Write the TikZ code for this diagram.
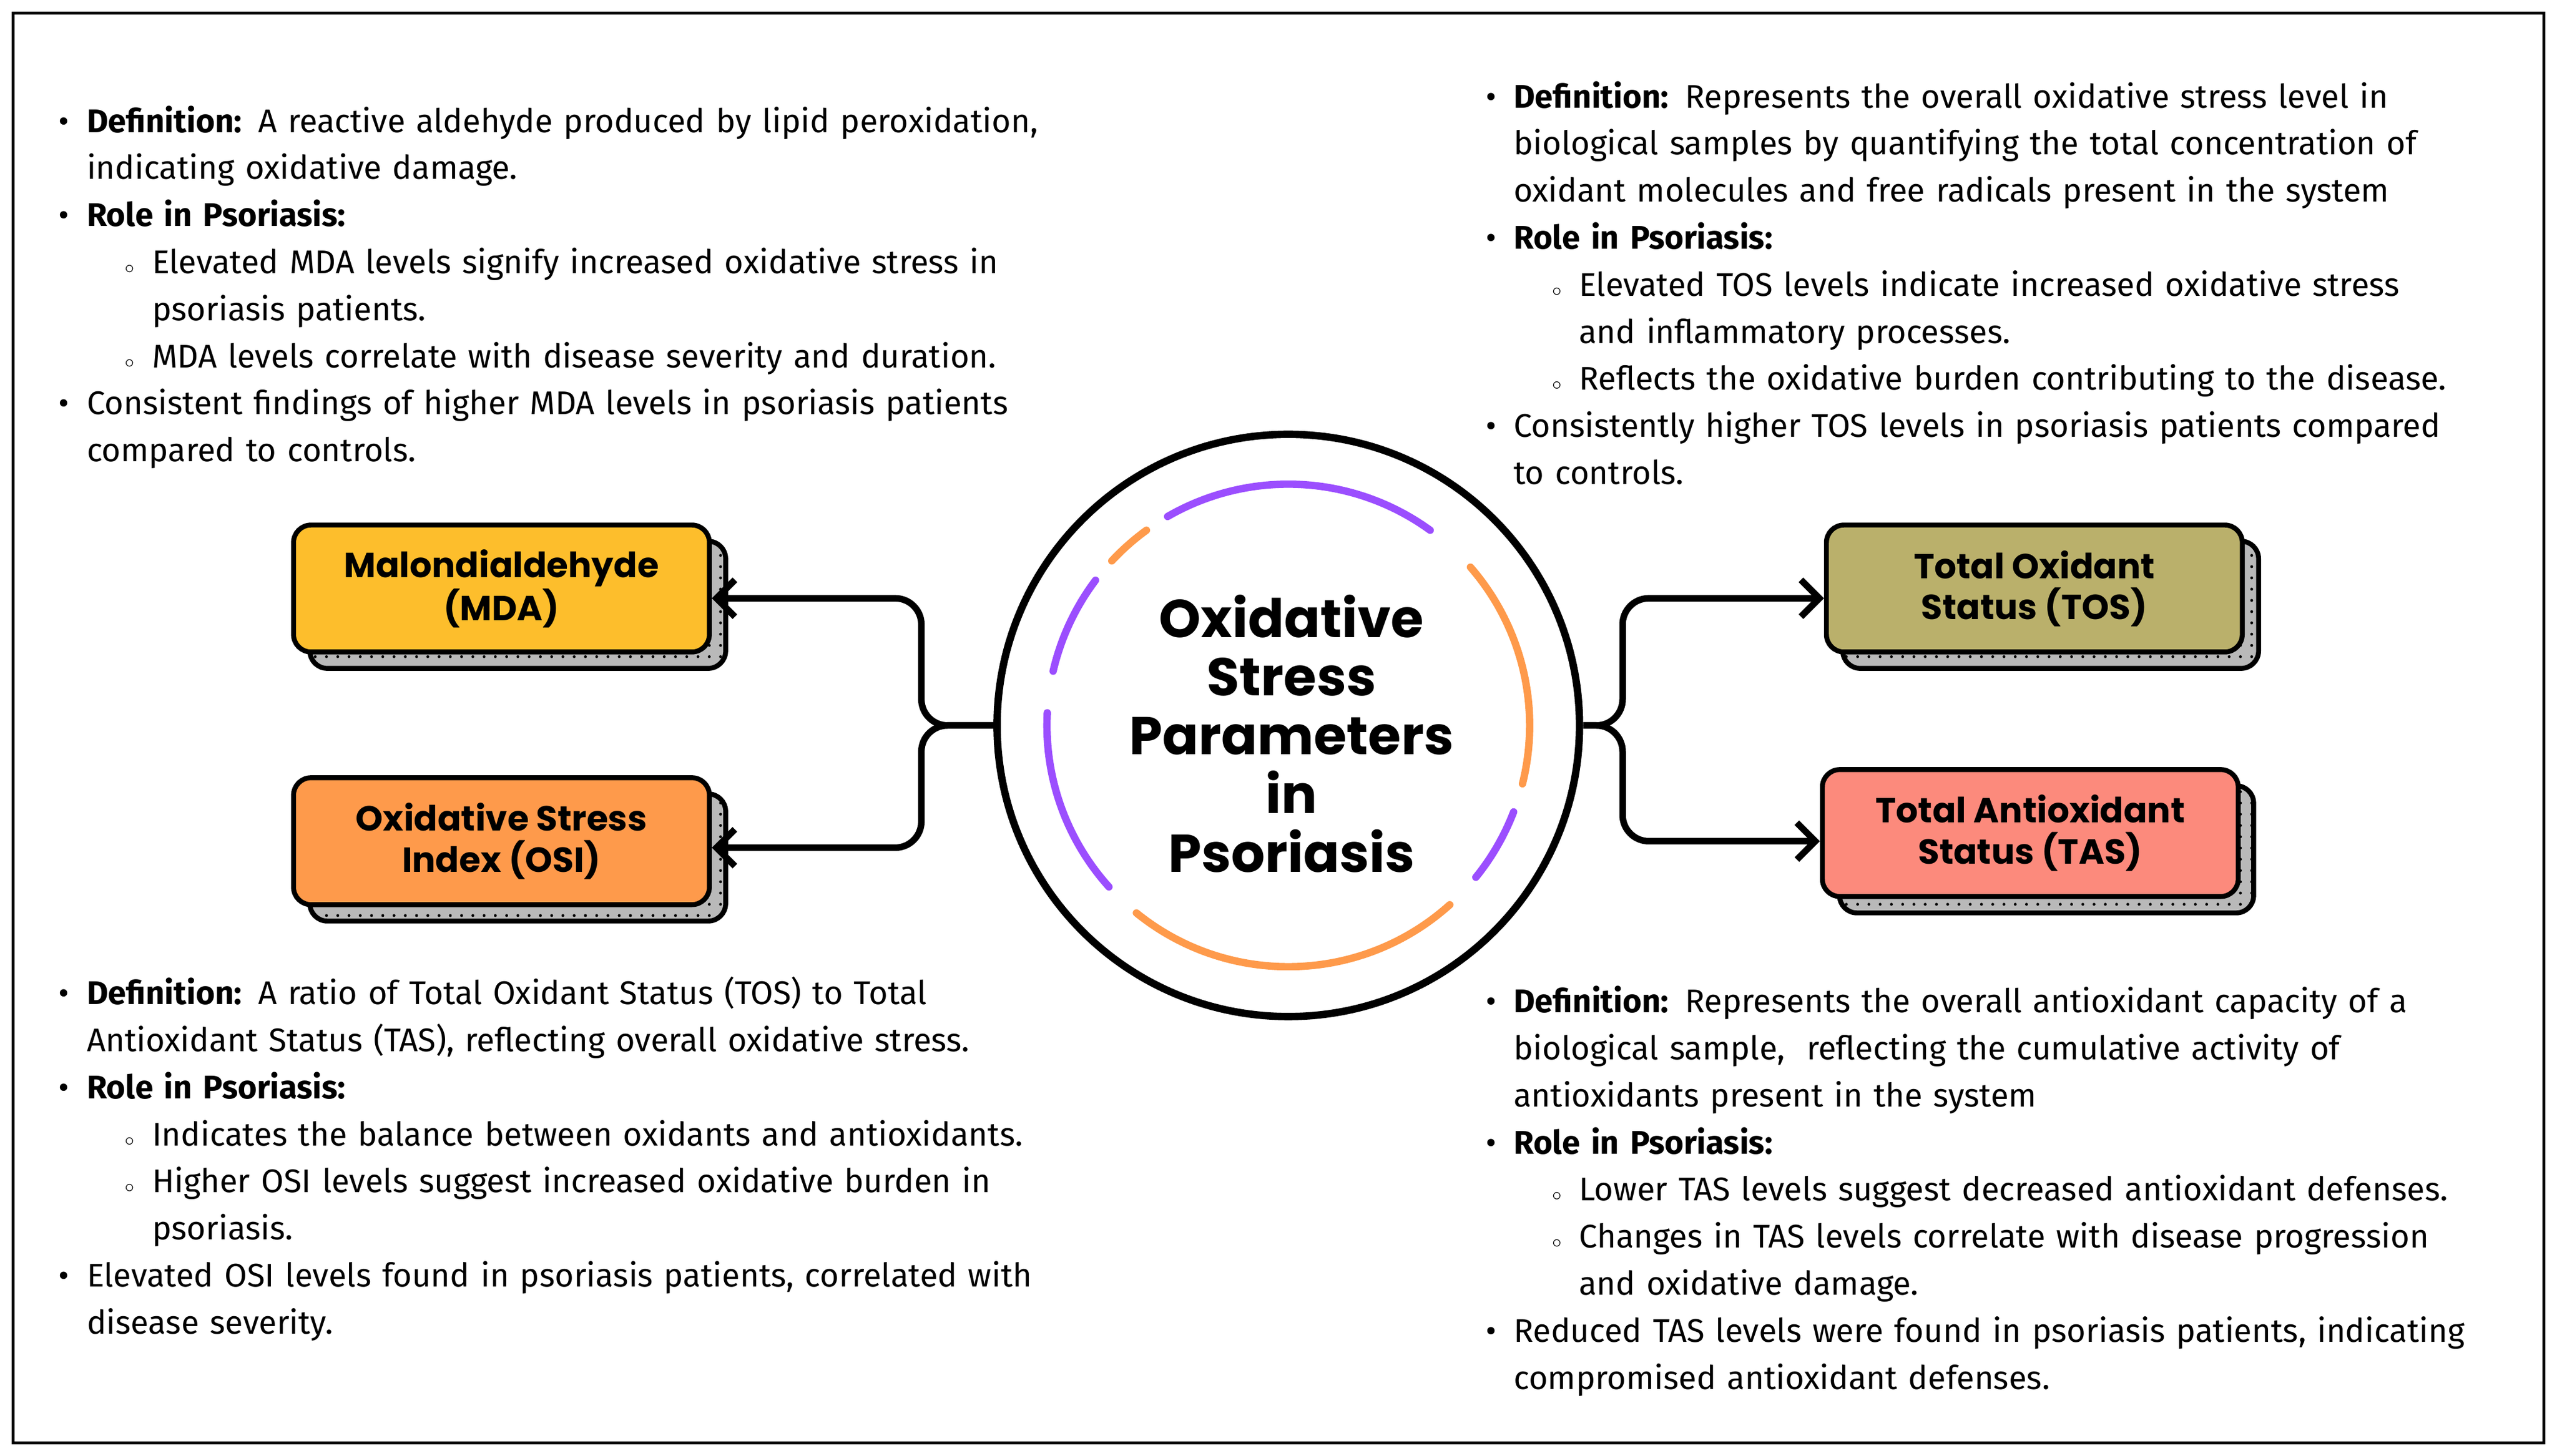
\documentclass[tikz,border=0pt]{standalone}
\usepackage{fontspec}
\usepackage{enumitem}
\setmainfont{Fira Sans}
\newfontfamily\heavy{Poppins}
\usetikzlibrary{arrows.meta,patterns.meta}
\definecolor{cMDA}{HTML}{FDBE2C}
\definecolor{cOSI}{HTML}{FE9A4B}
\definecolor{cTOS}{HTML}{BAB06B}
\definecolor{cTAS}{HTML}{FC8A7C}
\definecolor{arcO}{HTML}{FE9A4B}
\definecolor{arcP}{HTML}{9B4EFE}
\newcommand{\dfn}[1]{\textbf{#1}}
\newenvironment{blist}{\begin{itemize}[leftmargin=0.56cm,labelsep=0.3cm,itemsep=0pt,topsep=0pt,parsep=0pt,partopsep=0pt,label=\textbullet]}{\end{itemize}}
\newenvironment{slist}{\begin{itemize}[leftmargin=1.12cm,labelsep=0.3cm,itemsep=0pt,topsep=0pt,parsep=0pt,partopsep=0pt,label={\small$\circ$}]}{\end{itemize}}
\begin{document}
\begin{tikzpicture}[x=0.028cm,y=-0.028cm,
  box/.style={draw=black,line width=2.4pt,rounded corners=0.3cm,minimum width=7.14cm,minimum height=2.18cm,align=center,inner sep=0pt,font=\heavy\bfseries\fontsize{17}{20}\selectfont},
  shadow/.style={draw=black,line width=2.4pt,rounded corners=0.3cm,fill=gray!55,postaction={pattern={Dots[radius=0.7pt,distance=5.5pt]},pattern color=black}},
  txt/.style={anchor=north west,inner sep=0pt,text width=18.6cm,align=left,font=\fontsize{16}{23}\selectfont},
  conn/.style={line width=3.2pt,rounded corners=0.45cm},
  arr/.style={conn,-{Straight Barb[length=9pt,width=18pt,line width=3.2pt]}},
  arc/.style={line width=3.6pt,line cap=round}]
\useasboundingbox (0,0) rectangle (1568,893);
\draw[line width=1.5pt] (8,8) rectangle (1560,885);

% shadows
\draw[shadow] (190,332) rectangle (445,410);
\draw[shadow] (190,487) rectangle (445,565);
\draw[shadow] (1130,332) rectangle (1385,410);
\draw[shadow] (1128,482) rectangle (1382,560);
% boxes
\node[box,fill=cMDA] (mda) at (307.5,361) {Malondialdehyde\\(MDA)};
\node[box,fill=cOSI] (osi) at (307.5,516) {Oxidative Stress\\Index (OSI)};
\node[box,fill=cTOS] (tos) at (1247.5,361) {Total Oxidant\\Status (TOS)};
\node[box,fill=cTAS] (tas) at (1245,511) {Total Antioxidant\\Status (TAS)};

% circle
\node[circle,draw=black,line width=3.6pt,minimum size=10cm,inner sep=0pt] (c) at (790,445) {};
\node[font=\heavy\bfseries\fontsize{26}{28.7}\selectfont,align=center] (title) at (792,450) {Oxidative\\Stress\\Parameters\\in\\Psoriasis};
\draw[arc,arcO] (790,445) ++(129:148) arc (129:48:148);
\draw[arc,arcP] (790,445) ++(39:148) arc (39:21:148);
\draw[arc,arcO] (790,445) ++(14:148) arc (14:-41:148);
\draw[arc,arcP] (790,445) ++(-54:148) arc (-54:-120:148);
\draw[arc,arcO] (790,445) ++(-126:148) arc (-126:-137:148);
\draw[arc,arcP] (790,445) ++(-143:148) arc (-143:-167:148);
\draw[arc,arcP] (790,445) ++(-177:148) arc (-177:-222:148);

% connectors
\coordinate (jl) at (565,445);
\coordinate (jr) at (995,445);
\draw[arr] (c.west) -- (jl) -- (565,367) -- (mda.east |- 0,367);
\draw[arr] (c.west) -- (jl) -- (565,520) -- (osi.east |- 0,520);
\draw[arr] (c.east) -- (jr) -- (995,367) -- (tos.west |- 0,367);
\draw[arr] (c.east) -- (jr) -- (995,516) -- (tas.west |- 0,516);

% texts
\node[txt] (tl) at (33,52) {\begin{blist}
\item \dfn{Definition:} A reactive aldehyde produced by lipid peroxidation,\\ indicating oxidative damage.
\item \dfn{Role in Psoriasis:}
 \begin{slist}
 \item Elevated MDA levels signify increased oxidative stress in\\ psoriasis patients.
 \item MDA levels correlate with disease severity and duration.
 \end{slist}
\item Consistent findings of higher MDA levels in psoriasis patients\\ compared to controls.
\end{blist}};
\node[txt] (tr) at (908,37) {\begin{blist}
\item \dfn{Definition:} Represents the overall oxidative stress level in\\ biological samples by quantifying the total concentration of\\ oxidant molecules and free radicals present in the system
\item \dfn{Role in Psoriasis:}
 \begin{slist}
 \item Elevated TOS levels indicate increased oxidative stress\\ and inflammatory processes.
 \item Reflects the oxidative burden contributing to the disease.
 \end{slist}
\item Consistently higher TOS levels in psoriasis patients compared\\ to controls.
\end{blist}};
\node[txt] (bl) at (33,587) {\begin{blist}
\item \dfn{Definition:} A ratio of Total Oxidant Status (TOS) to Total\\ Antioxidant Status (TAS), reflecting overall oxidative stress.
\item \dfn{Role in Psoriasis:}
 \begin{slist}
 \item Indicates the balance between oxidants and antioxidants.
 \item Higher OSI levels suggest increased oxidative burden in\\ psoriasis.
 \end{slist}
\item Elevated OSI levels found in psoriasis patients, correlated with\\ disease severity.
\end{blist}};
\node[txt] (br) at (908,592) {\begin{blist}
\item \dfn{Definition:} Represents the overall antioxidant capacity of a\\ biological sample,\ \ reflecting the cumulative activity of\\ antioxidants present in the system
\item \dfn{Role in Psoriasis:}
 \begin{slist}
 \item Lower TAS levels suggest decreased antioxidant defenses.
 \item Changes in TAS levels correlate with disease progression\\ and oxidative damage.
 \end{slist}
\item Reduced TAS levels were found in psoriasis patients, indicating\\ compromised antioxidant defenses.
\end{blist}};
\end{tikzpicture}
\end{document}
